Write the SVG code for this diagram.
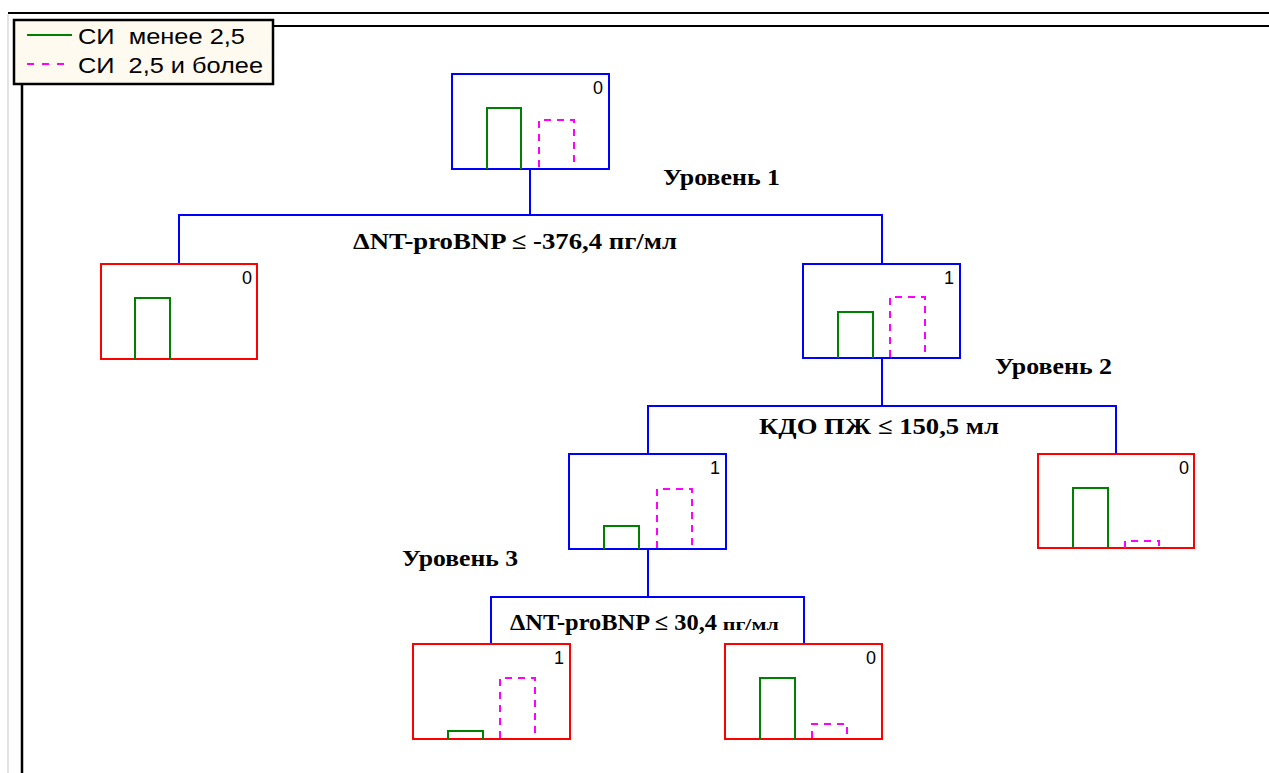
<svg xmlns="http://www.w3.org/2000/svg" width="1269" height="773" viewBox="0 0 1269 773">
<style>
.nb{fill:#fff;stroke:#0000ff;stroke-width:2}
.nr{fill:#fff;stroke:#ff0000;stroke-width:2}
.g{fill:none;stroke:#008000;stroke-width:2}
.m{fill:none;stroke:#ff00ff;stroke-width:2;stroke-dasharray:7,6}
.c{fill:none;stroke:#0000ff;stroke-width:2}
.num{font-family:"Liberation Sans",Arial,sans-serif;font-size:18px;fill:#000;text-anchor:end}
.lbl{font-family:"Liberation Serif","Times New Roman",serif;font-weight:bold;font-size:23px;fill:#000}
.leg{font-family:"Liberation Sans",Arial,sans-serif;font-size:22px;fill:#000}
</style>
<rect width="1269" height="773" fill="#fff"/>
<g id="frame">
<line x1="8" y1="13" x2="1269" y2="13" stroke="#000" stroke-width="2"/>
<line x1="8" y1="14" x2="8" y2="773" stroke="#c8c8c8" stroke-width="1"/>
<line x1="272" y1="26" x2="1269" y2="26" stroke="#000" stroke-width="2"/>
<line x1="22" y1="84" x2="22" y2="773" stroke="#000" stroke-width="2.5"/>
</g>
<g id="legend">
<rect x="14" y="20" width="259" height="64" fill="#fffaf0" stroke="#000" stroke-width="2.5"/>
<line x1="27" y1="35" x2="72" y2="35" stroke="#008000" stroke-width="2"/>
<text class="leg" x="78" y="44" textLength="167" lengthAdjust="spacingAndGlyphs" xml:space="preserve">СИ  менее 2,5</text>
<line x1="27" y1="64" x2="72" y2="64" stroke="#ff00ff" stroke-width="2" stroke-dasharray="7,8"/>
<text class="leg" x="78" y="73" textLength="185" lengthAdjust="spacingAndGlyphs" xml:space="preserve">СИ  2,5 и более</text>
</g>
<g id="connectors">
<polyline class="c" points="530,169 530,215"/>
<polyline class="c" points="179,264 179,215 882,215 882,264"/>
<polyline class="c" points="882,358 882,406"/>
<polyline class="c" points="648,454 648,406 1116,406 1116,454"/>
<polyline class="c" points="648,549 648,597"/>
<polyline class="c" points="491,644 491,597 804,597 804,644"/>
</g>
<g id="labels">
<text class="lbl" x="663" y="185" textLength="117" lengthAdjust="spacingAndGlyphs">Уровень 1</text>
<text class="lbl" x="353" y="249" textLength="324" lengthAdjust="spacingAndGlyphs">ΔNT-proBNP ≤ -376,4 пг/мл</text>
<text class="lbl" x="995" y="374" textLength="117" lengthAdjust="spacingAndGlyphs">Уровень 2</text>
<text class="lbl" x="759" y="434" textLength="240" lengthAdjust="spacingAndGlyphs">КДО ПЖ ≤ 150,5 мл</text>
<text class="lbl" x="402" y="566" textLength="116" lengthAdjust="spacingAndGlyphs">Уровень 3</text>
<text class="lbl" x="510" y="630"><tspan textLength="207" lengthAdjust="spacingAndGlyphs">ΔNT-proBNP ≤ 30,4</tspan> <tspan font-size="17px" textLength="56" lengthAdjust="spacingAndGlyphs">пг/мл</tspan></text>
</g>
<g id="node-root">
<rect class="nb" x="452" y="74" width="157" height="95"/>
<text class="num" x="603" y="94">0</text>
<polyline class="g" points="487,169 487,108 521,108 521,169"/>
<polyline class="m" points="539,167 539,120 574,120 574,167"/>
</g>
<g id="node-L1-left">
<rect class="nr" x="101" y="264" width="156" height="95"/>
<text class="num" x="252" y="284">0</text>
<polyline class="g" points="135,359 135,298 170,298 170,359"/>
</g>
<g id="node-L1-right">
<rect class="nb" x="803" y="264" width="157" height="94"/>
<text class="num" x="954" y="284">1</text>
<polyline class="g" points="838,358 838,312 873,312 873,358"/>
<polyline class="m" points="890,357 890,297 925,297 925,357"/>
</g>
<g id="node-L2-left">
<rect class="nb" x="569" y="454" width="157" height="95"/>
<text class="num" x="720" y="474">1</text>
<polyline class="g" points="604,549 604,526 639,526 639,549"/>
<polyline class="m" points="657,548 657,489 692,489 692,548"/>
</g>
<g id="node-L2-right">
<rect class="nr" x="1038" y="454" width="156" height="94"/>
<text class="num" x="1189" y="474">0</text>
<polyline class="g" points="1073,548 1073,488 1108,488 1108,548"/>
<polyline class="m" points="1125,548 1125,541 1159,541 1159,546"/>
</g>
<g id="node-L3-left">
<rect class="nr" x="413" y="644" width="157" height="95"/>
<text class="num" x="564" y="664">1</text>
<polyline class="g" points="448,739 448,731 483,731 483,739"/>
<polyline class="m" points="500,738 500,678 535,678 535,738"/>
</g>
<g id="node-L3-right">
<rect class="nr" x="725" y="644" width="157" height="95"/>
<text class="num" x="876" y="664">0</text>
<polyline class="g" points="760,739 760,678 795,678 795,739"/>
<polyline class="m" points="812,738 812,724 847,724 847,738"/>
</g>
</svg>
